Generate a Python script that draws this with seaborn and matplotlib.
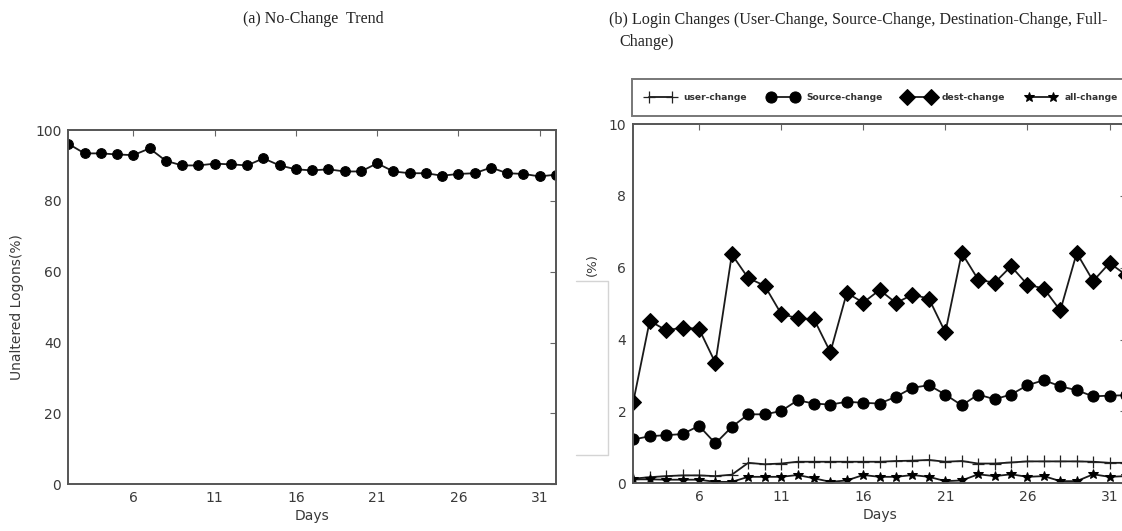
import matplotlib
matplotlib.use("Agg")
import matplotlib.pyplot as plt
from matplotlib.lines import Line2D
import seaborn as sns

days = list(range(2, 33))
no_change = [96.1, 93.4, 93.4, 93.1, 92.9, 94.8, 91.3, 90.0, 90.0, 90.5, 90.3,
             90.0, 92.0, 90.0, 88.9, 88.6, 88.9, 88.3, 88.3, 90.6, 88.3, 87.8,
             87.8, 87.1, 87.6, 87.8, 89.4, 87.8, 87.6, 86.9, 87.4]
user_change = [0.13, 0.17, 0.20, 0.22, 0.22, 0.20, 0.24, 0.57, 0.53, 0.55, 0.60,
               0.60, 0.60, 0.60, 0.60, 0.60, 0.62, 0.63, 0.65, 0.60, 0.62, 0.55,
               0.55, 0.58, 0.61, 0.61, 0.61, 0.61, 0.60, 0.57, 0.57]
source_change = [1.22, 1.31, 1.34, 1.37, 1.60, 1.11, 1.57, 1.92, 1.92, 2.01, 2.31,
                 2.22, 2.19, 2.27, 2.24, 2.22, 2.41, 2.66, 2.73, 2.47, 2.17, 2.47,
                 2.34, 2.47, 2.73, 2.87, 2.70, 2.59, 2.42, 2.44, 2.45]
dest_change = [2.27, 4.52, 4.26, 4.33, 4.30, 3.35, 6.37, 5.71, 5.50, 4.72, 4.59,
               4.57, 3.65, 5.30, 5.03, 5.38, 5.02, 5.25, 5.14, 4.20, 6.41, 5.67,
               5.58, 6.04, 5.53, 5.42, 4.81, 6.41, 5.63, 6.13, 5.80]
all_change = [0.11, 0.11, 0.10, 0.10, 0.10, 0.04, 0.04, 0.18, 0.18, 0.18, 0.23,
              0.14, 0.04, 0.08, 0.23, 0.18, 0.18, 0.23, 0.18, 0.06, 0.08, 0.25,
              0.20, 0.25, 0.18, 0.20, 0.06, 0.06, 0.25, 0.18, 0.20]
x_ticks = [6, 11, 16, 21, 26, 31]
left_yticks = [0, 20, 40, 60, 80, 100]
right_yticks = [0, 2, 4, 6, 8, 10]

sns.set_style("white")
plt.rcParams['font.family'] = ['DejaVu Sans']

W, H = 1122, 531
fig = plt.figure(figsize=(W / 100, H / 100), dpi=100)

def fx(px):
    return px / W

def fy(py):
    return 1 - py / H

ax1 = fig.add_axes([fx(68.3), fy(484.3), fx(556) - fx(68.3), fy(130) - fy(484.3)])
ax2 = fig.add_axes([fx(633.3), fy(483.3), fx(1126) - fx(633.3), fy(124) - fy(483.3)])

line_col = '#1a1a1a'
sns.lineplot(x=days, y=no_change, ax=ax1, color=line_col, marker='o', markersize=7,
             markeredgecolor='black', markerfacecolor='black', linewidth=1.3, legend=False)

sns.lineplot(x=days, y=user_change, ax=ax2, color=line_col, marker='+', markersize=8,
             markeredgecolor='#222222', markeredgewidth=0.9, linewidth=1.3, label='user-change')
sns.lineplot(x=days, y=source_change, ax=ax2, color=line_col, marker='o', markersize=8,
             markeredgecolor='black', markerfacecolor='black', linewidth=1.3, label='Source-change')
sns.lineplot(x=days, y=dest_change, ax=ax2, color=line_col, marker='D', markersize=8.5,
             markeredgecolor='black', markerfacecolor='black', linewidth=1.3, label='dest-change')
sns.lineplot(x=days, y=all_change, ax=ax2, color=line_col, marker='*', markersize=7,
             markeredgecolor='black', markerfacecolor='black', linewidth=1.3, label='all-change')

txt_col = '#3a3a3a'
for ax in (ax1, ax2):
    ax.set_xlim(2, 32)
    ax.set_xticks(x_ticks)
    ax.set_xticklabels([str(t) for t in x_ticks])
    ax.tick_params(direction='in', top=True, right=True, length=4, width=0.8,
                   color='#666666', labelsize=10, labelcolor=txt_col, pad=5)
    for s in ax.spines.values():
        s.set_color('#555555')
        s.set_linewidth(1.4)
    ax.set_xlabel('Days', fontsize=10, color=txt_col, labelpad=3)

ax1.set_ylim(0, 100)
ax1.set_yticks(left_yticks)
ax1.set_ylabel('Unaltered Logons(%)', fontsize=10, color=txt_col, labelpad=8)

ax2.set_ylim(0, 10)
ax2.set_yticks(right_yticks)
ax2.set_ylabel('(%)', fontsize=9.5, color=txt_col)
ax2.yaxis.set_label_coords(-0.07, 0.608)

leg = ax2.legend(loc='upper left', ncol=4, numpoints=2,
                 bbox_to_anchor=(fx(632), fy(79)),
                 bbox_transform=fig.transFigure, borderaxespad=0, frameon=True,
                 fancybox=False, handlelength=3.2, handletextpad=0.9,
                 columnspacing=2.35, borderpad=1.5,
                 prop={'size': 6.6, 'weight': 'bold'})
leg.get_frame().set_edgecolor('#555555')
leg.get_frame().set_linewidth(1.4)
for t in leg.get_texts():
    t.set_color('#333333')

# faint bracket in the gap between panels
fig.add_artist(Line2D([fx(576), fx(608), fx(608), fx(576)],
                      [fy(281), fy(281), fy(455), fy(455)],
                      transform=fig.transFigure, color='#d4d4d4', linewidth=1.0))

serif = ['Liberation Serif', 'DejaVu Serif']
fig.text(fx(243), fy(19), '(a) No-Change  Trend', family=serif, fontsize=11.5,
         va='center', ha='left', color='#222222')
fig.text(fx(609), fy(20), '(b) Login Changes (User-Change, Source-Change, Destination-Change, Full-',
         family=serif, fontsize=11.6, va='center', ha='left', color='#222222')
fig.text(fx(619), fy(42), 'Change)', family=serif, fontsize=11.6,
         va='center', ha='left', color='#222222')

fig.savefig('out.png', dpi=100)
